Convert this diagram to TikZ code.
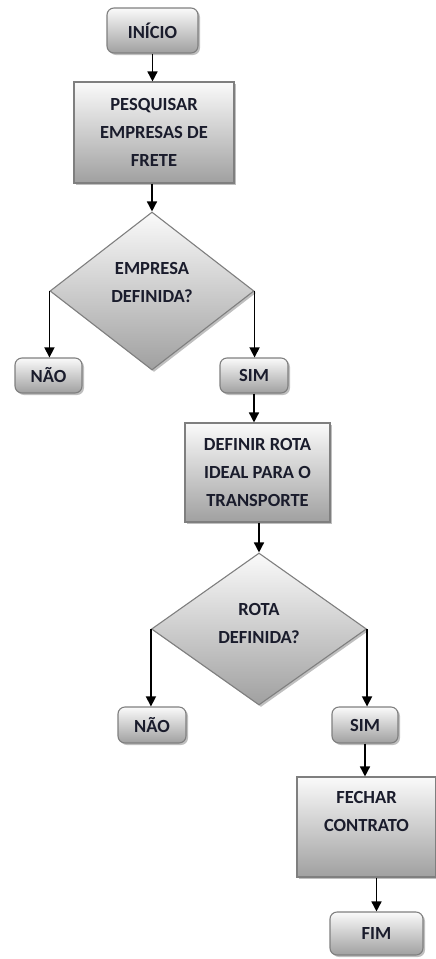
\documentclass[tikz,border=0pt]{standalone}
\usepackage{fontspec}
\setmainfont{Carlito}
\usetikzlibrary{shapes.geometric,arrows.meta,shadows}
\definecolor{boxline}{HTML}{7F7F7F}
\definecolor{boxtop}{HTML}{FAFAFA}
\definecolor{boxbottom}{HTML}{A0A0A0}
\definecolor{txt}{HTML}{1A1C2C}
\begin{document}
\begin{tikzpicture}[x=1pt,y=-1pt,
  base/.style={draw=boxline, line width=1.1pt, shading=axis,
    top color=boxtop, bottom color=boxbottom, text=txt,
    font=\fontsize{18.5}{28}\selectfont\bfseries, align=center, inner sep=0pt,
    drop shadow={shadow xshift=2pt, shadow yshift=-2pt, opacity=0.25, fill=black}},
  terminal/.style={base, rectangle, rounded corners=7pt},
  process/.style={base, rectangle},
  decision/.style={base, diamond},
  flow/.style={draw=black, line width=1.5pt, -{Triangle[length=10pt,width=10pt]}}]
\useasboundingbox (0,0) rectangle (436,959);

% start
\node[terminal, minimum width=91pt, minimum height=45pt] (inicio) at (152.5,30.5) {INÍCIO};
\node[process, minimum width=160pt, minimum height=101pt] (pesq) at (154,132.5)
  {PESQUISAR\\EMPRESAS DE\\FRETE};

% first decision
\node[decision, minimum width=204pt, minimum height=158pt] (dec1) at (152,291)
  {EMPRESA\\DEFINIDA?\rule[-18pt]{0pt}{0pt}};
\node[terminal, minimum width=67pt, minimum height=35pt] (nao1) at (48.5,375.5) {NÃO};
\node[terminal, minimum width=68pt, minimum height=35pt] (sim1) at (254,375.5) {SIM};

\node[process, minimum width=145pt, minimum height=99pt] (rota) at (257.5,472.5)
  {DEFINIR ROTA\\IDEAL PARA O\\TRANSPORTE};

% second decision
\node[decision, minimum width=215pt, minimum height=152pt] (dec2) at (259,629)
  {ROTA\\DEFINIDA?\rule[-12pt]{0pt}{0pt}};
\node[terminal, minimum width=68pt, minimum height=36pt] (nao2) at (152,725) {NÃO};
\node[terminal, minimum width=66pt, minimum height=36pt] (sim2) at (365,725) {SIM};

\node[process, minimum width=139pt, minimum height=100pt] (fechar) at (366.5,827)
  {FECHAR\\CONTRATO\rule[-32pt]{0pt}{0pt}};
\node[terminal, minimum width=93pt, minimum height=43pt] (fim) at (376.5,933.5) {FIM};

% connectors
\draw[flow] (inicio.south) -- (inicio.south |- pesq.north);
\draw[flow] (dec1.north |- pesq.south) -- (dec1.north);
\draw[flow] (dec1.west) -- (dec1.west |- nao1.north);
\draw[flow] (dec1.east) -- (dec1.east |- sim1.north);
\draw[flow] (sim1.south) -- (sim1.south |- rota.north);
\draw[flow] (dec2.north |- rota.south) -- (dec2.north);
\draw[flow] (dec2.west) -- (dec2.west |- nao2.north);
\draw[flow] (dec2.east) -- (dec2.east |- sim2.north);
\draw[flow] (sim2.south) -- (sim2.south |- fechar.north);
\draw[flow] (fim.north |- fechar.south) -- (fim.north);
\end{tikzpicture}
\end{document}
